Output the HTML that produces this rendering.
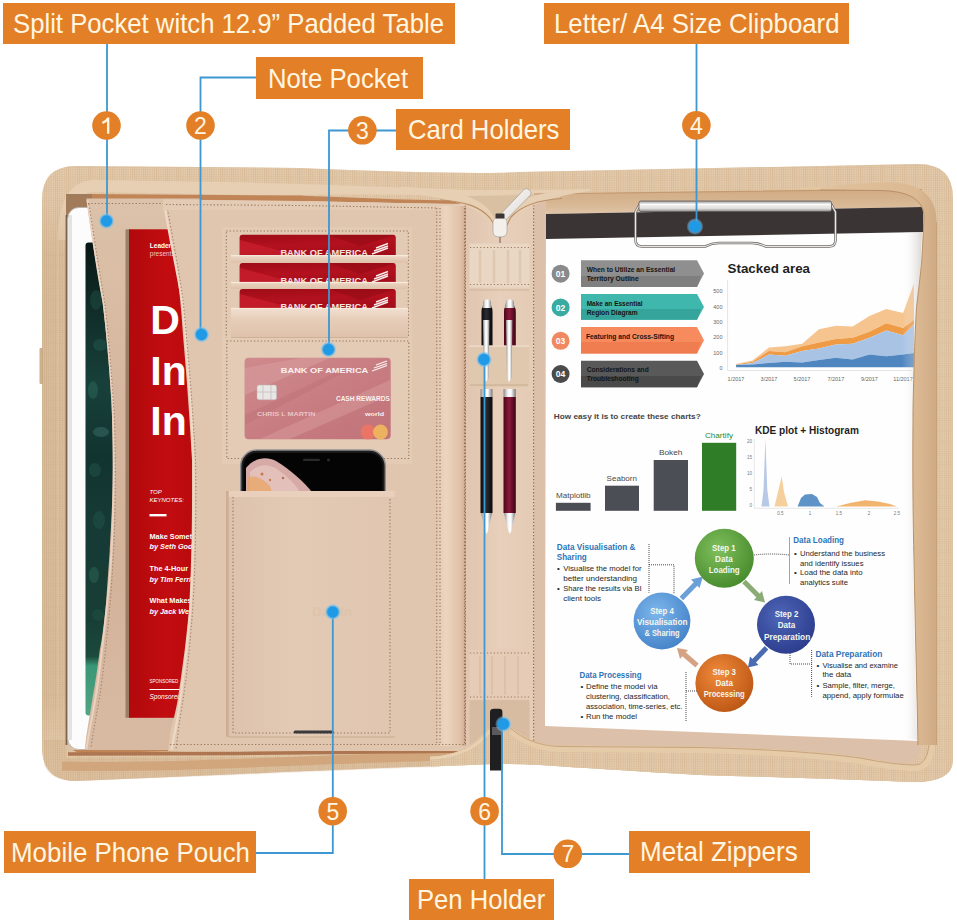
<!DOCTYPE html>
<html><head><meta charset="utf-8">
<style>
html,body{margin:0;padding:0;background:#fff;}
body{width:957px;height:924px;position:relative;overflow:hidden;font-family:"Liberation Sans",sans-serif;}
svg{position:absolute;left:0;top:0;}
.lb{position:absolute;background:#e37f26;color:#fff6e2;font-size:28px;line-height:1;white-space:nowrap;}
.lb span{position:absolute;left:0;top:0;transform-origin:0 0;}
</style></head><body>
<svg id="photo" width="957" height="924" viewBox="0 0 957 924">
<defs>
<linearGradient id="lshade" x1="0" y1="0" x2="0" y2="1"><stop offset="0" stop-color="#b88f64" stop-opacity="0"/><stop offset="0.1" stop-color="#b88f64" stop-opacity="0.22"/><stop offset="0.9" stop-color="#b88f64" stop-opacity="0.22"/><stop offset="1" stop-color="#b88f64" stop-opacity="0"/></linearGradient>
<linearGradient id="board" x1="0" y1="0" x2="0" y2="1"><stop offset="0" stop-color="#d2ab85"/><stop offset="0.6" stop-color="#d8b895"/><stop offset="1" stop-color="#e0c7aa"/></linearGradient>
<pattern id="ribs" width="2.2" height="2.2" patternUnits="userSpaceOnUse"><rect width="2.2" height="2.2" fill="#ecd6ba"/><rect width="0.9" height="2.2" fill="#cfae8a"/><rect width="2.2" height="0.7" fill="#d8ba98"/></pattern>
<linearGradient id="zipV" x1="0" y1="0" x2="1" y2="0"><stop offset="0" stop-color="#cfb28a"/><stop offset="0.5" stop-color="#dcc29f"/><stop offset="1" stop-color="#cdb088"/></linearGradient>
<linearGradient id="zipH" x1="0" y1="0" x2="0" y2="1"><stop offset="0" stop-color="#cfb28a"/><stop offset="0.5" stop-color="#dcc29f"/><stop offset="1" stop-color="#cdb088"/></linearGradient>
<linearGradient id="panelL" x1="0" y1="0" x2="1" y2="0"><stop offset="0" stop-color="#dcc0a8"/><stop offset="1" stop-color="#e3cab4"/></linearGradient>
<linearGradient id="redbook" x1="0" y1="0" x2="1" y2="0"><stop offset="0" stop-color="#b1090c"/><stop offset="0.5" stop-color="#c20c10"/><stop offset="1" stop-color="#b60a0d"/></linearGradient>
<linearGradient id="screen" x1="0" y1="0" x2="0" y2="1"><stop offset="0" stop-color="#081614"/><stop offset="0.12" stop-color="#0f2a26"/><stop offset="0.3" stop-color="#18403a"/><stop offset="0.45" stop-color="#123431"/><stop offset="0.6" stop-color="#163a36"/><stop offset="0.8" stop-color="#173e35"/><stop offset="0.875" stop-color="#1c4a3c"/><stop offset="0.895" stop-color="#3a9676"/><stop offset="1" stop-color="#4fa584"/></linearGradient>
</defs>
<g id="folio">
<path d="M42 200 Q42 166 76 166 L300 168 Q470 175 520 172 L918 164 Q953 164 953 198 L953 748 Q953 782 915 782 Q810 778 700 775 Q600 769 540 765 Q500 763 470 765 Q400 767 240 774 L76 781 Q42 781 42 747 Z" fill="#dfc5a4"/>
<path d="M42 200 Q42 166 76 166 L300 168 Q470 175 520 172 L918 164 Q953 164 953 198 L953 748 Q953 782 915 782 Q810 778 700 775 Q600 769 540 765 Q500 763 470 765 Q400 767 240 774 L76 781 Q42 781 42 747 Z" fill="url(#ribs)" opacity="0.5"/>
<rect x="39.5" y="348" width="3.5" height="36" rx="1" fill="#cdb08c"/>
<path d="M66 215 Q66 194 85 194 L300 195.5 Q470 203 520 200 L900 191 Q922 191 922 212 L922 730 Q922 746 905 746 L760 744 Q600 742 500 748 Q400 748 240 750 L85 753 Q66 753 66 735 Z" fill="#c08456"/>
<path d="M58 240 Q58 180 95 180 L250 182.6 Q400 187 470 190 Q510 189.5 580 189.5 L580 190.5 Q510 195.5 470 196 Q400 193.5 250 195 L95 192 Q66 192 66 240 Z" fill="#e7cfb4"/>
<path d="M44 740 L66 740 L66 758 L440 756 L440 767 Q400 768 240 775 L76 781 Q50 781 44 765 Z" fill="#b88f64" opacity="0.16"/>
<path d="M62 766 Q120 768 250 763 Q400 757 480 755" fill="none" stroke="#d1a67d" stroke-width="9"/>
<path d="M68 754 L240 753.5 Q400 752 480 751" fill="none" stroke="#ad7550" stroke-width="3.5"/>
<path d="M42 200 H66 V750 H42Z" fill="url(#lshade)"/>
<path d="M58 230 V740" stroke="#e2c6a2" stroke-width="1.2" opacity="0.8"/>
<path d="M66 200 L300 201 L466 204.5 V750 H66Z" fill="url(#panelL)"/>
<path d="M534 194 L900 189.5 L922 189.5 L922 740 Q922 764 900 764 L860 756 Q800 749 700 746 L534 745 Z" fill="#dcc0a9"/>
<path d="M546 193.5 L900 189.5 L922 189.5 L922 214 L546 215Z" fill="url(#board)"/>
<path d="M534 194 L900 189.5 L922 189.5" fill="none" stroke="#c49a70" stroke-width="1.2"/>
<!-- tablet -->
<path d="M66 194 H92 V218 H66Z" fill="#a27b5b"/>
<path d="M66.5 215 V745" stroke="#7a6450" stroke-width="1.8"/>
<rect x="67.8" y="207.5" width="88" height="542" rx="11" fill="#fcfcfc" stroke="#b9b2ab" stroke-width="0.9"/>
<rect x="69" y="215" width="3" height="525" fill="#e6e2de"/>
<rect x="85.5" y="242.5" width="70" height="473" rx="3" fill="url(#screen)"/>
<g opacity="0.28">
<ellipse cx="96" cy="300" rx="6" ry="10" fill="#2f6b5a"/>
<ellipse cx="100" cy="345" rx="7" ry="6" fill="#2c7466"/>
<ellipse cx="93" cy="390" rx="5" ry="9" fill="#3c8a76"/>
<ellipse cx="101" cy="432" rx="8" ry="5" fill="#5a9f92"/>
<ellipse cx="95" cy="470" rx="6" ry="7" fill="#2f6b5a"/>
<ellipse cx="99" cy="520" rx="6" ry="9" fill="#2d6a5c"/>
<ellipse cx="94" cy="575" rx="5" ry="8" fill="#3f8a70"/>
<ellipse cx="98" cy="615" rx="6" ry="6" fill="#2b6450"/>
</g>

<!-- flap 1 -->
<defs><linearGradient id="flap1g" x1="0" y1="0" x2="0" y2="1"><stop offset="0" stop-color="#dcc2aa"/><stop offset="0.35" stop-color="#d6b69e"/><stop offset="0.7" stop-color="#d4b39b"/><stop offset="1" stop-color="#d8baa2"/></linearGradient></defs>
<path d="M86.3 198.4 C92 240 98 275 102.3 300 C106 330 109 360 111.2 400 C113 430 113 470 112.2 500 C111 530 110 545 109.8 550 C108 575 107 590 106.3 600 C104 625 102 640 99.8 650 C96 680 94 690 92.3 700 C89 720 86 735 84.9 750 L200 750 L200 198.4 Z" fill="url(#flap1g)"/>
<path d="M87.5 200 C93 240 99 280 103.5 302 C107 330 110 365 112.5 400 C114 440 114 480 113.4 500 C112.5 540 110 580 107.5 600 C104 635 101 660 97.5 685 C94 710 89 730 86.5 749" fill="none" stroke="#e9d2bf" stroke-width="2"/>
<path d="M89 204 C95 245 101 280 105 305 C109 340 112 380 114.5 420 C116 470 115.5 520 113 560 C111 600 107 640 102 680 C99 705 93 730 91 748" fill="none" stroke="#a2826a" stroke-width="1.1" stroke-dasharray="1.3 2.1"/>
<path d="M88 203.5H200" stroke="#98775a" stroke-width="1.1" stroke-dasharray="1.3 2.1"/>
<!-- red book -->
<rect x="125.5" y="229.3" width="5" height="488.5" fill="#6e4a36" opacity="0.55"/>
<rect x="129" y="229.3" width="75" height="488.5" fill="url(#redbook)"/>
<g fill="#fff" font-family="Liberation Sans" font-weight="bold">
<text x="149.8" y="248.3" font-size="6.5">Leadership</text>
<text x="149.8" y="255.5" font-size="6.5" font-weight="normal" fill="#f3c6c6">presents</text>
<text x="150.3" y="334.4" font-size="41">D</text>
<text x="150.3" y="385.4" font-size="41">In</text>
<text x="150.3" y="435.2" font-size="41">In</text>
<text x="149.5" y="494" font-size="6" font-style="italic" font-weight="normal">TOP</text>
<text x="149.5" y="501.5" font-size="6" font-style="italic" font-weight="normal">KEYNOTES:</text>
<rect x="149.5" y="514" width="17" height="2.4"/>
<text x="149.5" y="538.5" font-size="7.3">Make Something</text>
<text x="149.5" y="549" font-size="7.3" font-style="italic">by Seth Godin</text>
<text x="149.5" y="571" font-size="7.3">The 4-Hour</text>
<text x="149.5" y="581.5" font-size="7.3" font-style="italic">by Tim Ferriss</text>
<text x="149.5" y="603.3" font-size="7.3">What Makes</text>
<text x="149.5" y="613.8" font-size="7.3" font-style="italic">by Jack Welch</text>
<text x="149.5" y="683" font-size="4.5" font-weight="normal">SPONSORED</text>
<rect x="149.5" y="689" width="40" height="1"/>
<text x="149.5" y="698.5" font-size="6.5" font-style="italic" font-weight="normal">Sponsored</text>
</g>
<!-- flap 2 (note pocket) -->
<path d="M163.4 199.5 C168 225 172 240 175 260 C178 280 181 300 183.4 340 C186 370 190 420 192 460 C192.5 520 191 580 189 610 C187 630 186 640 184.7 650 C182 670 180 685 177.7 700 C175 715 172 725 170.6 730 L168 751 L466 751 L466 204 Z" fill="#e0c6af"/>
<path d="M164.5 205 C170 240 178 275 182 300 C186 340 191 400 193.5 460 C194 520 192.5 590 189 625 C186 660 181 695 177.5 718 L171.5 750" fill="none" stroke="#eed9c7" stroke-width="2.2"/>
<path d="M167 206 C172 235 179 270 183 300 C188 350 193 410 195.5 460 C196.5 520 195 590 191 630 C188 670 183 700 179 725 L176 749" fill="none" stroke="#a2826a" stroke-width="1.1" stroke-dasharray="1.3 2.1"/>
<path d="M163 199.5 L300 201 L466 204.5 V210 H163Z" fill="#e4cbb5"/>
<path d="M166 204.5 L300 205.5 L466 208.5" fill="none" stroke="#98775a" stroke-width="1.1" stroke-dasharray="1.3 2.1"/>

<defs>
<linearGradient id="card" x1="0" y1="0" x2="0.3" y2="1"><stop offset="0" stop-color="#9e0c17"/><stop offset="0.5" stop-color="#b3111e"/><stop offset="1" stop-color="#a00d19"/></linearGradient>
<linearGradient id="pink" x1="0" y1="0" x2="1" y2="1"><stop offset="0" stop-color="#cf8a8c"/><stop offset="0.5" stop-color="#c87d82"/><stop offset="1" stop-color="#c07378"/></linearGradient>
<linearGradient id="slot" x1="0" y1="0" x2="0" y2="1"><stop offset="0" stop-color="#f2e0d2"/><stop offset="0.35" stop-color="#e7cfbb"/><stop offset="1" stop-color="#dec1aa"/></linearGradient>
<clipPath id="phc"><rect x="240.7" y="450" width="144.6" height="41.5"/></clipPath>
</defs>
<!-- card panel base -->
<rect x="222" y="227" width="190" height="237" fill="#e3cab4"/>
<rect x="226.3" y="231" width="182" height="229" fill="none" stroke="#98775a" stroke-width="1.1" stroke-dasharray="1.3 2.1"/>
<!-- red cards -->
<g>
<rect x="239.6" y="234.8" width="156.2" height="24" rx="3" fill="url(#card)"/>
<rect x="239.6" y="263" width="156.2" height="24" rx="3" fill="url(#card)"/>
<rect x="239.6" y="289" width="156.2" height="24" rx="3" fill="url(#card)"/>
<path d="M240 240 L300 256 L240 256Z M240 268 L300 284 L240 284Z M240 294 L300 310 L240 310Z" fill="#d42434" opacity="0.55"/>
<path d="M330 235 L360 246 L395 235Z M330 263 L360 274 L395 263Z M330 289 L360 300 L395 289Z" fill="#8e0a14" opacity="0.5"/>
</g>
<g fill="#f3e2e0" font-family="Liberation Sans" font-weight="bold" font-size="8.2">
<text x="280.4" y="256.2" textLength="87.6" lengthAdjust="spacingAndGlyphs">BANK OF AMERICA</text>
<text x="280.4" y="284" textLength="87.6" lengthAdjust="spacingAndGlyphs">BANK OF AMERICA</text>
<text x="280.4" y="310" textLength="87.6" lengthAdjust="spacingAndGlyphs">BANK OF AMERICA</text>
</g>
<g stroke="#f8eceb" stroke-width="1.4">
<path d="M372 254 l16 -6 M374 251 l14 -5 M376 248 l12 -4.5"/>
<path d="M372 282 l16 -6 M374 279 l14 -5 M376 276 l12 -4.5"/>
<path d="M372 308 l16 -6 M374 305 l14 -5 M376 302 l12 -4.5"/>
</g>
<!-- slot strips -->
<rect x="231" y="255.2" width="177" height="7.8" fill="url(#slot)"/>
<rect x="231" y="282" width="177" height="7" fill="url(#slot)"/>
<rect x="231" y="308" width="177" height="29" fill="url(#slot)"/>
<path d="M231 255.6H408M231 282.4H408M231 308.4H408" stroke="#f6ebdd" stroke-width="1"/>
<path d="M231 337.5H408" stroke="#c9ad8f" stroke-width="0.8"/>
<!-- window pocket -->
<rect x="223" y="338" width="189" height="126" fill="#e4cbb5"/>
<rect x="226.8" y="341" width="182" height="117.5" fill="none" stroke="#98775a" stroke-width="1.1" stroke-dasharray="1.3 2.1"/>
<rect x="244.6" y="357.8" width="146.1" height="81.5" rx="4" fill="url(#pink)"/>
<path d="M245 368 L300 358 L330 358 L245 395Z" fill="#daa0a1" opacity="0.5"/>
<path d="M260 439 L390 380 L390 395 L290 439Z" fill="#d9a0a0" opacity="0.45"/>
<path d="M245 415 L340 370 L345 372 L245 425Z" fill="#b76c72" opacity="0.35"/>
<g fill="#fbf1ef" font-family="Liberation Sans" font-weight="bold">
<text x="280.8" y="372.7" font-size="8" textLength="87.5" lengthAdjust="spacingAndGlyphs">BANK OF AMERICA</text>
<text x="335.9" y="401.2" font-size="6.4" textLength="54" lengthAdjust="spacingAndGlyphs">CASH REWARDS</text>
<text x="365" y="416" font-size="6.2" textLength="19" lengthAdjust="spacingAndGlyphs">world</text>
<text x="257" y="416" font-size="6" fill="#e9c6c6" textLength="58.4" lengthAdjust="spacingAndGlyphs">CHRIS L MARTIN</text>
</g>
<g stroke="#fbf1ef" stroke-width="1.3"><path d="M372 371 l15 -5.5 M374 368 l13 -4.5 M376 365 l11 -4"/></g>
<rect x="257" y="385" width="19.6" height="14.8" rx="2" fill="#e9e6e6" stroke="#bdb5b5" stroke-width="0.5"/>
<path d="M263 385V400M271 385V400M257 392H276.6" stroke="#bdb5b5" stroke-width="0.6"/>
<circle cx="368" cy="432" r="7.4" fill="#ee7565" opacity="0.9"/>
<circle cx="380.5" cy="432" r="7.4" fill="#f3bd5a" opacity="0.85"/>
<!-- phone -->
<rect x="240.7" y="450" width="144.6" height="80" rx="16" fill="#1a1a1a" stroke="#8f8f92" stroke-width="1.4"/>
<g clip-path="url(#phc)">
<rect x="243.5" y="453" width="139" height="70" rx="13" fill="#040404"/>
<path d="M246 468 C254 458 266 456 276 461 C291 470 304 482 312 492 L246 492Z" fill="#d6aaa6"/>
<path d="M250 472 C258 464 268 463 277 469 C287 476 296 485 300 492 L250 492Z" fill="#e6c2bc" opacity="0.9"/>
<path d="M247 478 C254 474 262 478 270 486 L272 492 L247 492Z" fill="#e7a66a" opacity="0.8"/>
<circle cx="262" cy="474" r="1.5" fill="#c57a4a"/><circle cx="270" cy="480" r="1.2" fill="#c57a4a"/><circle cx="283" cy="478" r="1.3" fill="#b9705a"/>
</g>
<rect x="303" y="458.8" width="17" height="2.2" rx="1" fill="#2a2a2a"/>
<circle cx="328.5" cy="460" r="1.6" fill="#2a2a2a"/>

<defs>
<linearGradient id="pouchg" x1="0" y1="0" x2="1" y2="0"><stop offset="0" stop-color="#ddc3ad"/><stop offset="0.4" stop-color="#e3cab5"/><stop offset="1" stop-color="#e0c6b0"/></linearGradient>
<linearGradient id="stripg" x1="0" y1="0" x2="1" y2="0"><stop offset="0" stop-color="#e3c8b1"/><stop offset="0.3" stop-color="#ecd5bf"/><stop offset="0.8" stop-color="#e0c1a8"/><stop offset="1" stop-color="#d3a98e"/></linearGradient>
</defs>
<!-- right strip of left panel -->
<rect x="437" y="206" width="29" height="540" fill="url(#stripg)"/>
<path d="M436.8 208V744M440 208V744M464.5 208V744" stroke="#98775a" stroke-width="1.1" stroke-dasharray="1.3 2.1"/>
<!-- bottom stitching of left panel -->
<path d="M170 744.5H466" stroke="#98775a" stroke-width="1.1" stroke-dasharray="1.3 2.1"/>
<!-- pouch -->
<rect x="228.6" y="491" width="166" height="246" fill="url(#pouchg)"/>
<rect x="228.6" y="491" width="166" height="6" fill="#e8d0bd"/>
<rect x="226" y="491" width="2.6" height="246" fill="#b58f74" opacity="0.45"/>
<path d="M233 497V733H390V497" fill="none" stroke="#98775a" stroke-width="1.1" stroke-dasharray="1.3 2.1"/>
<path d="M228.6 737H394.6" stroke="#c8ab8c" stroke-width="1"/>
<rect x="293.6" y="730.5" width="40.4" height="3" rx="1.5" fill="#3a3a3c"/>
<text x="332" y="616" font-family="Liberation Sans" font-weight="bold" font-size="13" fill="#dcc1a6" text-anchor="middle" opacity="0.6">Dahlin</text>

<defs>
<linearGradient id="chrome" x1="0" y1="0" x2="1" y2="0"><stop offset="0" stop-color="#8a8a8a"/><stop offset="0.35" stop-color="#f4f4f4"/><stop offset="0.6" stop-color="#ffffff"/><stop offset="1" stop-color="#777"/></linearGradient>
<linearGradient id="blk" x1="0" y1="0" x2="1" y2="0"><stop offset="0" stop-color="#0c0c0e"/><stop offset="0.45" stop-color="#2c2d33"/><stop offset="1" stop-color="#08080a"/></linearGradient>
<linearGradient id="mar" x1="0" y1="0" x2="1" y2="0"><stop offset="0" stop-color="#4a0618"/><stop offset="0.45" stop-color="#8c1a3a"/><stop offset="1" stop-color="#3f0514"/></linearGradient>
<linearGradient id="spineg" x1="0" y1="0" x2="1" y2="0"><stop offset="0" stop-color="#e0c6b0"/><stop offset="0.5" stop-color="#e8cfbb"/><stop offset="1" stop-color="#e4cbb5"/></linearGradient>
<linearGradient id="bandg" x1="0" y1="0" x2="1" y2="0"><stop offset="0" stop-color="#e6d2bb"/><stop offset="0.5" stop-color="#efe0cf"/><stop offset="1" stop-color="#e3cdb4"/></linearGradient>
</defs>
<!-- spine -->
<rect x="466" y="196" width="68" height="552" fill="url(#spineg)"/>
<path d="M465.4 205V745M533.6 205V745" stroke="#8f6d50" stroke-width="1.2" stroke-dasharray="1.3 2"/>
<!-- zipper curves top -->
<path d="M440 200 C468 202 482 208 492 220 L500 228 L508 220 C518 208 532 201 560 199 L560 196 L440 196Z" fill="#d9c0a2"/>
<path d="M400 187 C450 188 477 196 490 211 L497 222 L494 226 C480 208 452 196 400 193.5 Z" fill="#e7cfb4"/>
<path d="M590 189 C548 190 524 196 511 209 L504 222 L507 226 C518 211 540 197.5 590 191 Z" fill="#e7cfb4"/>
<path d="M440 200 C466 201.5 480 207 490 218 L496 227" fill="none" stroke="#b98e66" stroke-width="1.2"/>
<path d="M562 198.5 C536 200 521 206 511 217 L506 227" fill="none" stroke="#b98e66" stroke-width="1.2"/>
<!-- upper elastic band -->
<rect x="469.5" y="243.6" width="60" height="44" fill="#e9d6c3"/>
<path d="M480 250V283M494 250V283M508 250V283M520 250V283" stroke="#dcc3aa" stroke-width="2.5" opacity="0.7"/>
<path d="M470 247.5H529M470 284.5H529" stroke="#9c7b5c" stroke-width="1" stroke-dasharray="1.2 2.2"/>
<path d="M469.5 290H529.5" stroke="#c9ae92" stroke-width="0.8"/>
<!-- pens upper (above loop) -->
<path d="M481.5 346V312 Q481.5 308 483 306 L484 301 Q487 299 490 301 L491 306 Q492.5 308 492.5 312V346Z" fill="url(#blk)"/>
<path d="M483.5 300.5 Q487 298.5 490.5 300.5 L491.5 308 H482.5Z" fill="url(#chrome)"/>
<path d="M504 346V312 Q504 308 505.5 306 L506.5 301 Q509.8 299 513 301 L514 306 Q515.8 308 515.8 312V346Z" fill="url(#mar)"/>
<path d="M506 300.5 Q509.8 298.5 513.5 300.5 L514.5 308 H505Z" fill="url(#chrome)"/>
<!-- pen loop -->
<rect x="469" y="345.6" width="60" height="41.6" fill="#e0c8ae"/>
<path d="M469 346.2H529" stroke="#f0e0cf" stroke-width="1.2"/><path d="M470 385H528" stroke="#c2a68a" stroke-width="0.8"/>
<!-- clips -->
<path d="M483 320 L489.5 320 L488.5 378 L486 382 L484 378Z" fill="url(#chrome)"/>
<path d="M506 320 L512.5 320 L511.5 378 L509 382 L507 378Z" fill="url(#chrome)"/>
<!-- pens lower -->
<rect x="480.5" y="389" width="12" height="8" fill="url(#chrome)"/>
<rect x="480.5" y="397" width="12" height="116" fill="url(#blk)"/>
<path d="M481 513 H492 L488 531 L486.5 534 L485 531Z" fill="url(#chrome)"/>
<rect x="503.5" y="389" width="12.3" height="8" fill="url(#chrome)"/>
<rect x="503.5" y="397" width="12.3" height="116" fill="url(#mar)"/>
<path d="M504 513 H515.3 L511.3 531 L509.8 534 L508.3 531Z" fill="url(#chrome)"/>
<!-- lower elastic band -->
<rect x="469.5" y="649.6" width="60" height="50.4" fill="#e6cbb6"/>
<path d="M470 653H529M470 697H529" stroke="#9c7b5c" stroke-width="1" stroke-dasharray="1.2 2.2"/>
<path d="M480 656V695M492 656V695M505 656V695M518 656V695" stroke="#dcc0aa" stroke-width="2"/>
<rect x="469.5" y="700" width="60" height="46" fill="#d8bca2"/>
<!-- bottom zipper hump -->
<path d="M430 757 C455 756 474 746 488 728 L512 728 C528 742 545 745 560 745.5 L700 746.5 Q800 749 860 757 Q895 764 915 764 Q925 764 928 745 L953 745 L953 760 Q953 782 915 782 Q810 778 700 775 Q600 769 540 765 Q500 763 470 765 Q440 766 430 766.5 Z" fill="#dfc5a4"/>
<path d="M430 757 C455 756 474 746 488 728 L512 728 C528 742 545 745 560 745.5 L700 746.5 Q800 749 860 757 Q895 764 915 764 Q925 764 928 745 L953 745 L953 760 Q953 782 915 782 Q810 778 700 775 Q600 769 540 765 Q500 763 470 765 Q440 766 430 766.5 Z" fill="url(#ribs)" opacity="0.5"/>
<path d="M430 758 C458 757 476 748 490 731" fill="none" stroke="#e8d0b0" stroke-width="3"/>
<path d="M511 731 C527 745 545 748.5 560 749 L700 750 Q800 752.5 860 761 Q895 768 915 768 Q930 768 932 745" fill="none" stroke="#e6cba8" stroke-width="6"/>
<path d="M511 728.5 C527 742.5 545 746 560 746.5 L700 747.5 Q800 750 860 758 Q895 765 915 765 Q927 765 929 745" fill="none" stroke="#c9a47e" stroke-width="1"/>
<!-- bottom zipper pull -->
<path d="M490 712 Q490 708.7 494 708.7 L499 708.7 Q502.4 708.7 502.4 712 L502.4 770.5 L490 770.5Z" fill="#1f1f21"/>
<rect x="492" y="727" width="9" height="8" fill="#5a5a5c"/>
<!-- top zipper pull -->
<defs><linearGradient id="tabg" x1="0" y1="0" x2="1" y2="1"><stop offset="0" stop-color="#fbfaf8"/><stop offset="0.6" stop-color="#e9e6e2"/><stop offset="1" stop-color="#bcb6ae"/></linearGradient></defs>
<path d="M497 218 L524 189.5 Q526.5 187.5 528.5 189.5 L530.5 191.5 Q532 193.5 530 195.5 L503 223Z" fill="url(#tabg)" stroke="#a49c92" stroke-width="0.7"/>
<path d="M493 222 Q493 217.5 500 217.5 Q507 217.5 507 222 L507 232 Q507 237 500 237 Q493 237 493 232Z" fill="#f3f0ec" stroke="#a9a198" stroke-width="0.7"/>
<rect x="495.5" y="213.5" width="9" height="5" rx="1" fill="#3a3432"/>
<path d="M500 237 V243" stroke="#6a5a4a" stroke-width="1"/>

</g>
<g id="paper">
<path d="M546 214 L923 207 L918 741 L545 726 Z" fill="#fefefe"/>
<path d="M546 214 L923 207 L923 232 L546 239 Z" fill="#3a3434"/>
<!-- numbered circles -->
<circle cx="560.6" cy="273.7" r="9" fill="#8a8a8a"/>
<circle cx="560.6" cy="307.4" r="9" fill="#3aaba1"/>
<circle cx="560.6" cy="340.8" r="9" fill="#f08862"/>
<circle cx="560.6" cy="374" r="9" fill="#4b4b4b"/>
<g fill="#fff" font-family="Liberation Sans" font-weight="bold" font-size="8.5" text-anchor="middle">
<text x="560.6" y="276.8">01</text><text x="560.6" y="310.5">02</text><text x="560.6" y="343.9">03</text><text x="560.6" y="377.1">04</text>
</g>
<!-- banners -->
<path d="M581 260.3H697L704 273.6L697 287H581Z" fill="#8f8f8f"/>
<path d="M581 276H701L697 287H581Z" fill="#7f7f7f"/>
<path d="M581 294H697L704 307L697 319.8H581Z" fill="#3fb7ac"/>
<path d="M581 309H701L697 319.8H581Z" fill="#35a59b"/>
<path d="M581 327H697L704 340.3L697 353.6H581Z" fill="#f88b5e"/>
<path d="M581 342H701L697 353.6H581Z" fill="#ef7d50"/>
<path d="M581 360.7H697L704 374L697 387.3H581Z" fill="#595959"/>
<path d="M581 376H701L697 387.3H581Z" fill="#4a4a4a"/>
<g fill="#151515" font-family="Liberation Sans" font-weight="bold" font-size="7.2">
<text x="586.7" y="271.8" textLength="88.5" lengthAdjust="spacingAndGlyphs">When to Utilize an Essential</text>
<text x="586.7" y="280.6" textLength="52" lengthAdjust="spacingAndGlyphs">Territory Outline</text>
<text x="586.7" y="305.9" textLength="56" lengthAdjust="spacingAndGlyphs">Make an Essential</text>
<text x="586.7" y="314.8" textLength="51" lengthAdjust="spacingAndGlyphs">Region Diagram</text>
<text x="586" y="338.9" textLength="88" lengthAdjust="spacingAndGlyphs">Featuring and Cross-Sifting</text>
<text x="586.7" y="372.2" textLength="62" lengthAdjust="spacingAndGlyphs">Considerations and</text>
<text x="586.7" y="381" textLength="52" lengthAdjust="spacingAndGlyphs">Troubleshooting</text>
</g>
<path d="M736.1 363.9 L752.4 360.6 L769.0 347.4 L785.3 346.2 L802.2 343.8 L819.0 329.3 L835.8 325.7 L852.6 326.4 L869.5 316.1 L886.3 308.9 L903.1 313.0 L913.9 283.7 L913.9 319.7 L903.1 328.1 L886.3 323.3 L869.5 331.7 L852.6 337.7 L835.8 338.9 L819.0 342.5 L802.2 346.2 L785.3 352.2 L769.0 351.0 L752.4 361.8 L736.1 364.4Z" fill="#f6c48e"/>
<path d="M736.1 364.4 L752.4 361.8 L769.0 351.0 L785.3 352.2 L802.2 346.2 L819.0 342.5 L835.8 338.9 L852.6 337.7 L869.5 331.7 L886.3 323.3 L903.1 328.1 L913.9 319.7 L913.9 324.5 L903.1 335.3 L886.3 330.5 L869.5 337.7 L852.6 343.8 L835.8 344.5 L819.0 348.6 L802.2 351.0 L785.3 355.8 L769.0 354.6 L752.4 363.0 L736.1 364.9Z" fill="#ef9a45"/>
<path d="M736.1 364.9 L752.4 363.0 L769.0 354.6 L785.3 355.8 L802.2 351.0 L819.0 348.6 L835.8 344.5 L852.6 343.8 L869.5 337.7 L886.3 330.5 L903.1 335.3 L913.9 324.5 L913.9 352.9 L903.1 354.6 L886.3 356.2 L869.5 354.6 L852.6 359.4 L835.8 357.7 L819.0 360.1 L802.2 362.5 L785.3 361.8 L769.0 363.0 L752.4 364.4 L736.1 364.9Z" fill="#a9c3e5"/>
<path d="M736.1 364.9 L752.4 364.4 L769.0 363.0 L785.3 361.8 L802.2 362.5 L819.0 360.1 L835.8 357.7 L852.6 359.4 L869.5 354.6 L886.3 356.2 L903.1 354.6 L913.9 352.9 L913.9 367.3 L736.1 367.3Z" fill="#4f86c0"/>
<path d="M727.6 280V370.5H912" stroke="#ddd" stroke-width="0.8" fill="none"/>
<g fill="#666" font-family="Liberation Sans" font-size="5.5" text-anchor="end">
<text x="722.5" y="293.0">500</text>
<text x="722.5" y="308.5">400</text>
<text x="722.5" y="323.8">300</text>
<text x="722.5" y="339.2">200</text>
<text x="722.5" y="354.6">100</text>
<text x="722.5" y="370.0">0</text>
</g><g fill="#666" font-family="Liberation Sans" font-size="5.5" text-anchor="middle">
<text x="736" y="381.3">1/2017</text>
<text x="769" y="381.3">3/2017</text>
<text x="802" y="381.3">5/2017</text>
<text x="835.8" y="381.3">7/2017</text>
<text x="869.5" y="381.3">9/2017</text>
<text x="903" y="381.3">11/2017</text>
</g>
<text x="727.6" y="273.3" font-family="Liberation Sans" font-weight="bold" font-size="13" fill="#222" textLength="82.4" lengthAdjust="spacingAndGlyphs">Stacked area</text><text x="553.8" y="419" font-family="Liberation Sans" font-weight="bold" font-size="7.6" fill="#454545" textLength="146.9" lengthAdjust="spacingAndGlyphs">How easy it is to create these charts?</text>
<rect x="555.9" y="502.8" width="34.7" height="8" fill="#4c4e55"/>
<rect x="605" y="485.7" width="34" height="25.1" fill="#4c4e55"/>
<rect x="653.7" y="460" width="34.3" height="50.8" fill="#4c4e55"/>
<rect x="702" y="442.8" width="34.2" height="68" fill="#2f7d27"/>
<g font-family="Liberation Sans" font-size="7" fill="#4a4a4a">
<text x="555.9" y="497.5" textLength="34.7" lengthAdjust="spacingAndGlyphs">Matplotlib</text>
<text x="606.6" y="481" textLength="30.4" lengthAdjust="spacingAndGlyphs">Seaborn</text>
<text x="658.9" y="454.6" textLength="23.6" lengthAdjust="spacingAndGlyphs">Bokeh</text>
<text x="704.9" y="438.1" textLength="28.1" lengthAdjust="spacingAndGlyphs" fill="#2f8a27">Chartify</text>
</g>
<!-- KDE -->
<text x="754.9" y="434.2" font-family="Liberation Sans" font-weight="bold" font-size="10" fill="#1e1e1e" textLength="104" lengthAdjust="spacingAndGlyphs">KDE plot + Histogram</text>
<path d="M754.3 439V508.3H898.8" stroke="#ddd" stroke-width="0.7" fill="none"/>
<path d="M761.5 506.5 L763.5 490 L765.4 438.8 L767.3 490 L769.5 506.5Z" fill="#b8c9e6"/>
<path d="M774.5 506.5 L778 492 L781.7 476.5 L784 492 L788 506.5Z" fill="#f5cf9c"/>
<path d="M797.6 506.5 L801 498 L805 494.5 L812 494 L817 497 L820 503 L824.4 506.5Z" fill="#5f93c8"/>
<path d="M836.3 506.5 L850 503 L865 500.3 L878 501.5 L890 504 L896.8 506.5Z" fill="#f0b46e"/>
<g fill="#777" font-family="Liberation Sans" font-size="4.5" text-anchor="middle">
<text x="780.5" y="515">0.5</text><text x="810" y="515">1</text><text x="839" y="515">1.5</text><text x="869" y="515">2</text><text x="897" y="515">2.5</text>
</g>
<g fill="#777" font-family="Liberation Sans" font-size="4.5" text-anchor="end">
<text x="752" y="443">20</text><text x="752" y="459">15</text><text x="752" y="475">10</text><text x="752" y="491">5</text><text x="752" y="507">0</text>
</g>
<defs>
<radialGradient id="g1" cx="0.4" cy="0.35" r="0.7"><stop offset="0" stop-color="#80bf5c"/><stop offset="1" stop-color="#468a2c"/></radialGradient>
<radialGradient id="g2" cx="0.4" cy="0.35" r="0.7"><stop offset="0" stop-color="#4f66b8"/><stop offset="1" stop-color="#2b3b8c"/></radialGradient>
<radialGradient id="g3" cx="0.4" cy="0.35" r="0.7"><stop offset="0" stop-color="#f08a3a"/><stop offset="1" stop-color="#bb5514"/></radialGradient>
<radialGradient id="g4" cx="0.4" cy="0.35" r="0.7"><stop offset="0" stop-color="#7db7ec"/><stop offset="1" stop-color="#4482c8"/></radialGradient>
</defs>
<!-- arrows -->
<g stroke-width="5" stroke-linecap="butt">
<path d="M681.4 598.4L697 582.5" stroke="#6b9fd8"/>
<path d="M744 581.4L759 596.5" stroke="#8bab77"/>
<path d="M766.5 647.8L753 662" stroke="#4a6bb2"/>
<path d="M697 665.5L682 652.5" stroke="#d6a284"/>
</g>
<path d="M703 576.5L699.5 588L691 579.5Z" fill="#6b9fd8"/>
<path d="M765 602.5L754 600L762 591Z" fill="#8bab77"/>
<path d="M748 667.5L750 656.5L758.5 665Z" fill="#4a6bb2"/>
<path d="M677 648L688 650L680 659Z" fill="#d6a284"/>
<circle cx="724.3" cy="558.3" r="29.5" fill="url(#g1)"/>
<circle cx="786" cy="624.7" r="29" fill="url(#g2)"/>
<circle cx="724.4" cy="683" r="29" fill="url(#g3)"/>
<circle cx="662" cy="621" r="28.4" fill="url(#g4)"/>
<g fill="#f4f7ee" font-family="Liberation Sans" font-weight="bold" font-size="9" text-anchor="middle">
<text x="723.9" y="550.6" textLength="23.6" lengthAdjust="spacingAndGlyphs">Step 1</text>
<text x="723.9" y="561.8" textLength="17.6" lengthAdjust="spacingAndGlyphs">Data</text>
<text x="724.2" y="573" textLength="31" lengthAdjust="spacingAndGlyphs">Loading</text>
<text x="786.5" y="617" textLength="23.6" lengthAdjust="spacingAndGlyphs">Step 2</text>
<text x="786.5" y="627.8" textLength="17.6" lengthAdjust="spacingAndGlyphs">Data</text>
<text x="787.1" y="639.5" textLength="46.3" lengthAdjust="spacingAndGlyphs">Preparation</text>
<text x="724.2" y="674.6" textLength="23.6" lengthAdjust="spacingAndGlyphs">Step 3</text>
<text x="724.2" y="686" textLength="17.6" lengthAdjust="spacingAndGlyphs">Data</text>
<text x="724.2" y="697.2" textLength="41" lengthAdjust="spacingAndGlyphs">Processing</text>
<text x="662" y="614" textLength="23.6" lengthAdjust="spacingAndGlyphs">Step 4</text>
<text x="662.2" y="625.3" textLength="50.5" lengthAdjust="spacingAndGlyphs">Visualisation</text>
<text x="662" y="636" textLength="35" lengthAdjust="spacingAndGlyphs">&amp; Sharing</text>
</g>
<!-- dotted connectors -->
<g stroke="#333" stroke-width="0.9" stroke-dasharray="1 1" fill="none">
<path d="M649 544V592.7M649 564.8H674V594"/>
<path d="M754 555Q770 553 789.5 555M789.5 537.5V584"/>
<path d="M790 653V664H811.6M811.6 650V696.8"/>
<path d="M686 672V721M686 691H697"/>
</g>
<!-- text blocks -->
<g font-family="Liberation Sans" font-weight="bold" font-size="9" fill="#2e74b5">
<text x="556.8" y="549.7" textLength="78.7" lengthAdjust="spacingAndGlyphs">Data Visualisation &amp;</text>
<text x="556.8" y="559.8" textLength="30" lengthAdjust="spacingAndGlyphs">Sharing</text>
<text x="579.5" y="678" textLength="62" lengthAdjust="spacingAndGlyphs">Data Processing</text>
<text x="793.3" y="543.2" textLength="50.7" lengthAdjust="spacingAndGlyphs">Data Loading</text>
<text x="815.4" y="657.2" textLength="67" lengthAdjust="spacingAndGlyphs">Data Preparation</text>
</g>
<g font-family="Liberation Sans" font-size="8" fill="#262626">
<text x="557" y="571">&#8226;</text><text x="563.2" y="571" textLength="78.4" lengthAdjust="spacingAndGlyphs">Visualise the model for</text>
<text x="563.2" y="581" textLength="73.8" lengthAdjust="spacingAndGlyphs">better understanding</text>
<text x="557" y="590.7">&#8226;</text><text x="563.2" y="590.7" textLength="78.4" lengthAdjust="spacingAndGlyphs">Share the results via BI</text>
<text x="563.2" y="600.7" textLength="37.9" lengthAdjust="spacingAndGlyphs">client tools</text>
<text x="580.5" y="689">&#8226;</text><text x="586" y="689" textLength="71.5" lengthAdjust="spacingAndGlyphs">Define the model via</text>
<text x="586" y="699" textLength="84" lengthAdjust="spacingAndGlyphs">clustering, classification,</text>
<text x="586" y="709" textLength="96.5" lengthAdjust="spacingAndGlyphs">association, time-series, etc.</text>
<text x="580.5" y="718.6">&#8226;</text><text x="586" y="718.6" textLength="51" lengthAdjust="spacingAndGlyphs">Run the model</text>
<text x="794" y="555.6">&#8226;</text><text x="800" y="555.6" textLength="85" lengthAdjust="spacingAndGlyphs">Understand the business</text>
<text x="800" y="565.5" textLength="63.5" lengthAdjust="spacingAndGlyphs">and identify issues</text>
<text x="794" y="575.2">&#8226;</text><text x="800" y="575.2" textLength="62.5" lengthAdjust="spacingAndGlyphs">Load the data into</text>
<text x="800" y="585" textLength="48" lengthAdjust="spacingAndGlyphs">analytics suite</text>
<text x="816.6" y="668.2">&#8226;</text><text x="822.4" y="668.2" textLength="75.6" lengthAdjust="spacingAndGlyphs">Visualise and examine</text>
<text x="822.4" y="677.4" textLength="28.8" lengthAdjust="spacingAndGlyphs">the data</text>
<text x="816.6" y="688.2">&#8226;</text><text x="822.4" y="688.2" textLength="72.6" lengthAdjust="spacingAndGlyphs">Sample, filter, merge,</text>
<text x="822.4" y="698.2" textLength="81.4" lengthAdjust="spacingAndGlyphs">append, apply formulae</text>
</g>

</g>
<defs>
<linearGradient id="pshade" x1="0" y1="0" x2="1" y2="0"><stop offset="0" stop-color="#ffffff" stop-opacity="0"/><stop offset="1" stop-color="#bdb6ae" stop-opacity="0.55"/></linearGradient>
<linearGradient id="rollR" x1="0" y1="0" x2="1" y2="0"><stop offset="0" stop-color="#e8cba6"/><stop offset="0.3" stop-color="#dfbf99"/><stop offset="0.85" stop-color="#dbb993"/><stop offset="1" stop-color="#cfab84"/></linearGradient>
<linearGradient id="clipbar" x1="0" y1="0" x2="0" y2="1"><stop offset="0" stop-color="#9a9896"/><stop offset="0.3" stop-color="#f4f3f2"/><stop offset="0.7" stop-color="#e2e0de"/><stop offset="1" stop-color="#8d8a88"/></linearGradient>
</defs>
<!-- paper right edge shading -->
<path d="M902 232 L922 232 C920 300 913 380 912 450 C912 560 915 650 917 740 L903 738 Z" fill="url(#pshade)"/>
<!-- right roll -->
<path d="M800 188 L880 182.5 Q936.5 180 936.5 222 L936.5 745 L918 745 C917 690 915 620 914 560 C913 520 912.5 470 913 420 C913 400 913.5 390 914.3 360 C914.5 350 915 335 916.4 310 C917 300 919 290 921.6 262 C922 255 923.5 235 924 215 Q922 191 880 190.5 L800 189 Z" fill="url(#rollR)"/>
<path d="M820 190 L880 190.5 Q922 191 924 215 C923.5 235 922 255 921.6 262 C919 290 917 300 916.4 310 C915 335 914.5 350 914.3 360 C913.5 390 913 400 913 420 C912.5 470 913 520 914 560 C915 620 917 690 918 745" fill="none" stroke="#b89068" stroke-width="1"/>
<path d="M936.5 222 V745" stroke="#c7a27b" stroke-width="1"/>
<!-- clipboard clip -->
<path d="M640 204 L635.5 212 V240 Q635.5 246.5 642 246.5 H705 Q712 243 719 243 H752 Q759 243 766 246.5 H829 Q835.5 246.5 835.5 240 V212 L831 204" fill="none" stroke="#6f6c6a" stroke-width="2.6"/>
<path d="M640 204 L635.5 212 V240 Q635.5 246.5 642 246.5 H705 Q712 243 719 243 H752 Q759 243 766 246.5 H829 Q835.5 246.5 835.5 240 V212 L831 204" fill="none" stroke="#e8e7e6" stroke-width="1.2"/>
<rect x="639" y="201" width="192.5" height="10.5" rx="2" fill="url(#clipbar)" stroke="#5f5c5a" stroke-width="0.8"/>
<path d="M641 204.5 H829" stroke="#ffffff" stroke-width="1.2" opacity="0.9"/>

</svg>
<!-- LABELS -->
<div class="lb" style="left:3px;top:3px;width:452px;height:41px"><span style="left:10px;top:7px;transform:scaleX(0.918)">Split Pocket witch 12.9&#8221; Padded Table</span></div>
<div class="lb" style="left:256px;top:57px;width:167px;height:42px"><span style="left:12px;top:8px;transform:scaleX(0.918)">Note Pocket</span></div>
<div class="lb" style="left:396px;top:109px;width:174px;height:41px"><span style="left:12px;top:7px;transform:scaleX(0.918)">Card Holders</span></div>
<div class="lb" style="left:544px;top:3px;width:305px;height:41px"><span style="left:10px;top:7px;transform:scaleX(0.922)">Letter/ A4 Size Clipboard</span></div>
<div class="lb" style="left:4px;top:831px;width:252px;height:42px"><span style="left:7px;top:8px;transform:scaleX(0.925)">Mobile Phone Pouch</span></div>
<div class="lb" style="left:409px;top:879px;width:145px;height:41px"><span style="left:8px;top:7px;transform:scaleX(0.916)">Pen Holder</span></div>
<div class="lb" style="left:629px;top:831px;width:181px;height:42px"><span style="left:11px;top:7px;transform:scaleX(0.93)">Metal Zippers</span></div>
<!-- CALLOUTS -->
<svg id="callouts" width="957" height="924" viewBox="0 0 957 924">
<defs>
<radialGradient id="dotg"><stop offset="0.6" stop-color="#1f9ae6"/><stop offset="0.78" stop-color="#62b9ee" stop-opacity="0.6"/><stop offset="1" stop-color="#9fd3f5" stop-opacity="0"/></radialGradient>
</defs>
<g fill="none" stroke="#3d97d0" stroke-width="1.8">
<path d="M107 44V221"/>
<path d="M256 77.5H200.5V334"/>
<path d="M396 130.5H329V349"/>
<path d="M696.5 44V226"/>
<path d="M332.8 612V853H256"/>
<path d="M484.5 359V879"/>
<path d="M502 724V854H629"/>
</g>
<g fill="url(#dotg)">
<circle cx="106.5" cy="221" r="8.5"/>
<circle cx="201.5" cy="334.5" r="8.5"/>
<circle cx="328.5" cy="349.5" r="8.5"/>
<circle cx="695" cy="226.5" r="8.5"/>
<circle cx="332.8" cy="612" r="8.5"/>
<circle cx="484" cy="359.5" r="8.5"/>
<circle cx="503.5" cy="724" r="8.5"/>
</g>
<g fill="#e37f26">
<circle cx="106.5" cy="125.5" r="14.3"/>
<circle cx="200.5" cy="125.5" r="14.3"/>
<circle cx="362.4" cy="130.3" r="14.3"/>
<circle cx="696.4" cy="125.3" r="14.3"/>
<circle cx="332.7" cy="811.2" r="14.3"/>
<circle cx="484.6" cy="811.2" r="14.3"/>
<circle cx="567.8" cy="853.8" r="14.3"/>
</g>
<g fill="#fff6e2" font-family="Liberation Sans" font-size="23" text-anchor="middle">

<text x="200.5" y="133.8">2</text>
<text x="362.4" y="138.6">3</text>
<text x="696.4" y="133.6">4</text>
<text x="332.9" y="819.5">5</text>
<text x="484.6" y="819.5">6</text>
<text x="567.8" y="862.1">7</text>
</g>
<path d="M108.2 117.6V133.8M108.2 117.9C107 120.3 104.8 122 102.4 122.8" fill="none" stroke="#fff6e2" stroke-width="2.3"/>
</svg>
</body></html>
